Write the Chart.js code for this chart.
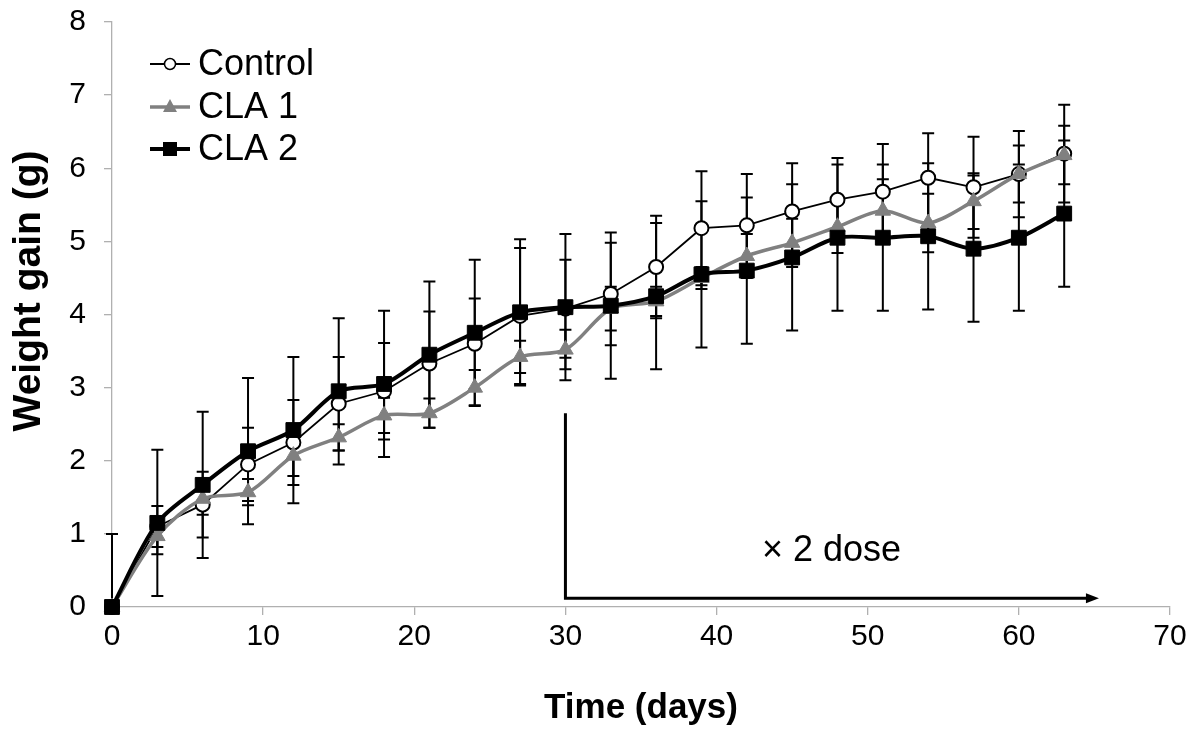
<!DOCTYPE html>
<html>
<head>
<meta charset="utf-8">
<script src="https://cdn.jsdelivr.net/npm/chart.js@4/dist/chart.umd.min.js"></script>
<style>
html,body{margin:0;padding:0;background:#fff;}
#wrap{width:1200px;height:743px;position:relative;}
</style>
</head>
<body>
<div id="wrap"><canvas id="c" width="1200" height="743"></canvas></div>
<script>
// ---- data ----
const days = [0,3,6,9,12,15,18,21,24,27,30,33,36,39,42,45,48,51,54,57,60,63];
const controlVals = [0,1.10,1.40,1.95,2.25,2.78,2.95,3.33,3.60,3.98,4.08,4.28,4.65,5.18,5.22,5.41,5.57,5.68,5.87,5.74,5.92,6.20];
const cla1Vals    = [0,0.97,1.48,1.57,2.07,2.32,2.62,2.65,3.00,3.42,3.52,4.08,4.18,4.50,4.80,4.98,5.20,5.42,5.25,5.55,5.92,6.18];
const cla2Vals    = [0,1.15,1.67,2.13,2.42,2.95,3.05,3.45,3.75,4.03,4.10,4.12,4.25,4.55,4.60,4.78,5.05,5.05,5.07,4.90,5.05,5.38];
const controlErr = [0,0.28,0.45,0.50,0.58,0.64,0.66,0.71,0.62,0.93,0.67,0.70,0.70,0.78,0.70,0.66,0.57,0.65,0.61,0.69,0.59,0.67];
const cla1Err    = [0,0.25,0.22,0.18,0.28,0.18,0.24,0.20,0.24,0.22,0.27,0.30,0.20,0.15,0.30,0.33,0.36,0.43,0.40,0.38,0.39,0.40];
const cla2Err    = [1.0,1.0,1.0,1.0,1.0,1.0,1.0,1.0,1.0,1.0,1.0,1.0,1.0,1.0,1.0,1.0,1.0,1.0,1.0,1.0,1.0,1.0];
const seriesNames = ['Control','CLA 1','CLA 2'];
const xTicks = [0,10,20,30,40,50,60,70];
const yTicks = [0,1,2,3,4,5,6,7,8];
const xTitle = 'Time (days)';
const yTitle = 'Weight gain (g)';
// annotation (data units)
const doseStartDay = 30, doseEndDay = 65.3, doseLineTop = 2.65, doseLineY = 0.12;
const doseLabel = '\u00d7 2 dose', doseLabelPos = [47.6, 0.77];

const FONT = '"Liberation Sans", Arial, sans-serif';
const toPts = (vals) => vals.map((v,i)=>({x:days[i], y:v}));
const errs = [controlErr, cla1Err, cla2Err];

const errorBars = {
  id:'errorBars',
  beforeDatasetsDraw(chart){
    const {ctx, chartArea, scales:{x,y}} = chart;
    ctx.save();
    ctx.beginPath();
    ctx.rect(chartArea.left-10, chartArea.top-10, chartArea.right-chartArea.left+20, chartArea.bottom-chartArea.top+10);
    ctx.clip();
    ctx.strokeStyle = '#000';
    ctx.lineWidth = 2;
    chart.data.datasets.forEach((ds, di)=>{
      ds.data.forEach((p, i)=>{
        const e = errs[di][i];
        if (!e) return;
        const px = x.getPixelForValue(p.x);
        const hi = y.getPixelForValue(p.y + e);
        const lo = y.getPixelForValue(Math.max(p.y - e, 0));
        ctx.beginPath();
        ctx.moveTo(px, hi); ctx.lineTo(px, lo);
        ctx.moveTo(px-6, hi); ctx.lineTo(px+6, hi);
        if (p.y - e >= 0) { ctx.moveTo(px-6, lo); ctx.lineTo(px+6, lo); }
        ctx.stroke();
      });
    });
    ctx.restore();
  }
};

const doseArrow = {
  id:'doseArrow',
  afterDatasetsDraw(chart){
    const {ctx, scales:{x,y}} = chart;
    const x0 = x.getPixelForValue(doseStartDay), x1 = x.getPixelForValue(doseEndDay);
    const yTop = y.getPixelForValue(doseLineTop), yb = y.getPixelForValue(doseLineY);
    ctx.save();
    ctx.strokeStyle = '#000'; ctx.fillStyle = '#000'; ctx.lineWidth = 3;
    ctx.beginPath();
    ctx.moveTo(x0, yTop); ctx.lineTo(x0, yb); ctx.lineTo(x1-10, yb);
    ctx.stroke();
    ctx.beginPath();
    ctx.moveTo(x1, yb); ctx.lineTo(x1-13, yb-5); ctx.lineTo(x1-13, yb+5); ctx.closePath();
    ctx.fill();
    ctx.font = '36px ' + FONT;
    ctx.textAlign = 'center'; ctx.textBaseline = 'middle';
    ctx.fillText(doseLabel, x.getPixelForValue(doseLabelPos[0]), y.getPixelForValue(doseLabelPos[1]));
    ctx.restore();
  }
};

const customLegend = {
  id:'customLegend',
  afterDraw(chart){
    const {ctx} = chart;
    const ys = [64, 107, 149];
    ctx.save();
    chart.data.datasets.forEach((ds, i)=>{
      const yy = ys[i];
      ctx.strokeStyle = ds.borderColor; ctx.lineWidth = ds.borderWidth;
      ctx.beginPath(); ctx.moveTo(150, yy); ctx.lineTo(190, yy); ctx.stroke();
      ctx.fillStyle = ds.pointBackgroundColor; ctx.strokeStyle = ds.pointBorderColor; ctx.lineWidth = 1.5;
      if (i === 0) { ctx.beginPath(); ctx.arc(170, yy, 5.5, 0, Math.PI*2); ctx.fill(); ctx.stroke(); }
      else if (i === 1) { ctx.beginPath(); ctx.moveTo(170, yy-8); ctx.lineTo(177, yy+5); ctx.lineTo(163, yy+5); ctx.closePath(); ctx.fill(); }
      else { ctx.fillRect(163, yy-7, 14, 14); }
      ctx.fillStyle = '#000';
      ctx.font = '36px ' + FONT;
      ctx.textAlign = 'left'; ctx.textBaseline = 'middle';
      ctx.fillText(seriesNames[i], 198, yy+1);
    });
    ctx.restore();
  }
};

const yAxisTitle = {
  id:'yAxisTitle',
  afterDraw(chart){
    const {ctx} = chart;
    ctx.save();
    ctx.translate(29, 291);
    ctx.rotate(-Math.PI/2);
    ctx.fillStyle = '#000';
    ctx.font = 'bold 39px ' + FONT;
    ctx.textAlign = 'center'; ctx.textBaseline = 'middle';
    ctx.fillText(yTitle, 0, 0);
    ctx.restore();
  }
};

new Chart(document.getElementById('c'), {
  type:'line',
  data:{
    datasets:[
      { label:seriesNames[0], data:toPts(controlVals), borderColor:'#000', borderWidth:1.8, tension:0, clip:false,
        pointStyle:'circle', pointRadius:7, pointBackgroundColor:'#fff', pointBorderColor:'#000', pointBorderWidth:2, order:3 },
      { label:seriesNames[1], data:toPts(cla1Vals), borderColor:'#808080', borderWidth:3.5, tension:0.3, clip:false,
        pointStyle:'triangle', pointRadius:9, pointBackgroundColor:'#808080', pointBorderColor:'#808080', pointBorderWidth:1, order:2 },
      { label:seriesNames[2], data:toPts(cla2Vals), borderColor:'#000', borderWidth:4, tension:0.3, clip:false,
        pointStyle:'rect', pointRadius:10.5, pointBackgroundColor:'#000', pointBorderColor:'#000', pointBorderWidth:1, order:1 }
    ]
  },
  options:{
    responsive:false, animation:false, devicePixelRatio:1,
    layout:{padding:{top:22, right:30, left:0, bottom:0}},
    plugins:{legend:{display:false}, tooltip:{enabled:false}},
    scales:{
      x:{type:'linear', min:0, max:70,
        afterBuildTicks(s){ s.ticks = xTicks.map(v=>({value:v})); },
        afterFit(s){ s.height = 136; s.paddingLeft = 0; s.paddingRight = 0; },
        grid:{drawOnChartArea:false, drawTicks:true, tickLength:8, color:'#b0b0b0', lineWidth:1.3},
        border:{color:'#b0b0b0', width:1.3},
        ticks:{color:'#000', font:{family:FONT, size:30}, padding:4, maxRotation:0},
        title:{display:true, text:xTitle, color:'#000', font:{family:FONT, size:35, weight:'bold'}, padding:{top:14, bottom:14}}
      },
      y:{type:'linear', min:0, max:8,
        afterBuildTicks(s){ s.ticks = yTicks.map(v=>({value:v})); },
        afterFit(s){ s.width = 112; s.paddingTop = 0; s.paddingBottom = 0; },
        grid:{drawOnChartArea:false, drawTicks:true, tickLength:8, color:'#b0b0b0', lineWidth:1.3},
        border:{color:'#b0b0b0', width:1.3},
        ticks:{color:'#000', font:{family:FONT, size:30}, padding:18},
        title:{display:false}
      }
    }
  },
  plugins:[errorBars, doseArrow, customLegend, yAxisTitle]
});
</script>
</body>
</html>
